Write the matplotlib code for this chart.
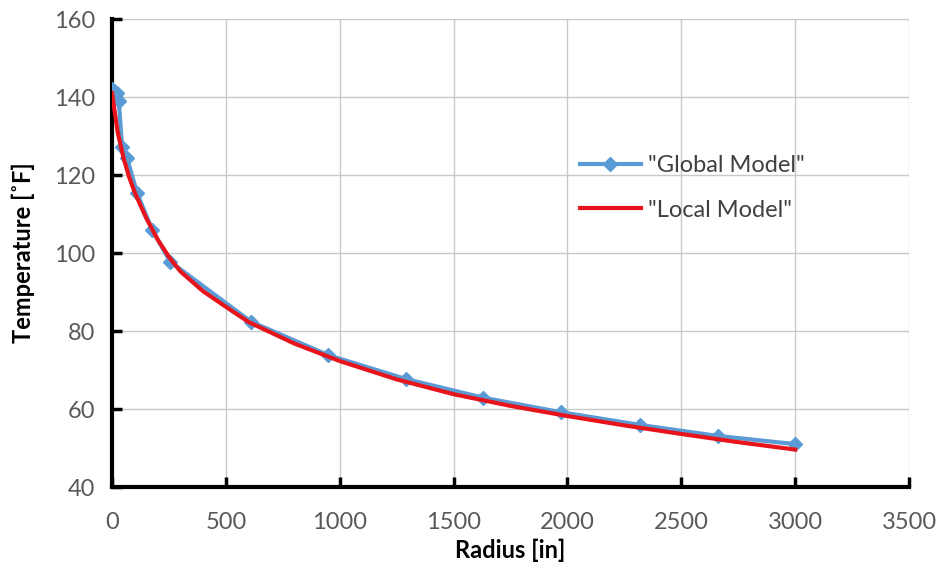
import matplotlib
matplotlib.use("Agg")
import matplotlib.pyplot as plt

global_r = [0, 10, 20, 30, 44, 66, 110, 176, 255, 610, 950, 1290, 1630, 1970, 2320, 2660, 3000]
global_T = [142, 141.5, 141, 139, 127.2, 124.4, 115.4, 106, 97.8, 82.4, 73.8, 67.7, 62.9, 59.2, 55.9, 53.1, 51.0]

local_r = [0, 10, 25, 50, 75, 100, 150, 200, 250, 300, 400, 500, 600, 800, 1000, 1250, 1500, 1750, 2000, 2250, 2500, 2750, 3000]
local_T = [141, 137, 131, 124.5, 119.5, 115.5, 109, 103.5, 99, 95.3, 90.2, 86.2, 82.3, 76.8, 72.3, 67.6, 63.8, 60.8, 58.2, 55.8, 53.6, 51.5, 49.6]

xticks = [0, 500, 1000, 1500, 2000, 2500, 3000, 3500]
yticks = [40, 60, 80, 100, 120, 140, 160]

plt.rcParams['font.family'] = ['Lato', 'DejaVu Sans']

fig = plt.figure(figsize=(9.42, 5.73), dpi=100)
ax = fig.add_axes([112/942, 1-487/573, (909-112)/942, (487-19)/573])

ax.plot(global_r, global_T, color='#5B9BD5', lw=3, marker='D', ms=7,
        label='"Global Model"', zorder=3)
ax.plot(local_r, local_T, color='#E8141B', lw=3, label='"Local Model"', zorder=4)

ax.set_xlim(0, 3500)
ax.set_ylim(40, 160)
ax.set_xticks(xticks)
ax.set_yticks(yticks)
ax.grid(True, color='#C8C8C8', lw=1)
ax.set_axisbelow(True)
for s in ['top', 'right']:
    ax.spines[s].set_visible(False)
for s in ['left', 'bottom']:
    ax.spines[s].set_linewidth(3)
    ax.spines[s].set_color('black')
ax.tick_params(direction='in', length=7, width=2.5, colors='black',
               labelcolor='#595959', labelsize=17)
ax.tick_params(axis='x', pad=18)
ax.tick_params(axis='y', pad=12)

ax.set_xlabel('Radius [in]', fontsize=17, fontweight='bold', labelpad=4)
ax.set_ylabel('Temperature [˚F]', fontsize=17, fontweight='bold', labelpad=14)

leg = ax.legend(loc='upper left', bbox_to_anchor=(0.56, 0.755), frameon=False,
                fontsize=17, handlelength=2.6, labelspacing=1.0, handletextpad=0.3)
for t in leg.get_texts():
    t.set_color('#404040')

fig.savefig('out.png', dpi=100)
